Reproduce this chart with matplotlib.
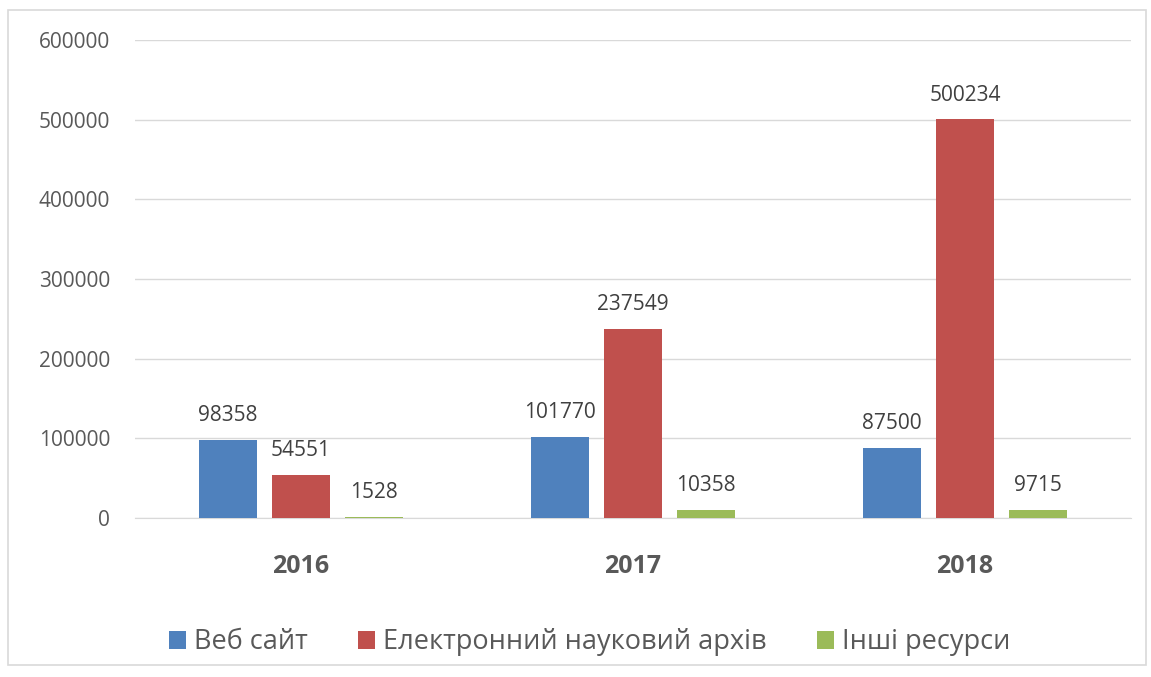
import numpy as np
import matplotlib.pyplot as plt
from matplotlib.patches import Rectangle

# Дані
years = ['2016', '2017', '2018']
series = ['Веб сайт', 'Електронний науковий архів', 'Інші ресурси']
web = [98358, 101770, 87500]
archive = [54551, 237549, 500234]
other = [1528, 10358, 9715]
colors = ['#4F81BD', '#C0504D', '#9BBB59']

plt.rcParams['font.family'] = ['Open Sans', 'DejaVu Sans']
txt = '#595959'

fig = plt.figure(figsize=(11.51, 6.77), dpi=100)
ax = fig.add_axes([0.1173, 0.2349, 0.8653, 0.7060])

# Рамка навколо діаграми
fig.patches.append(Rectangle((0.007, 0.018), 0.989, 0.967, transform=fig.transFigure,
                             fill=False, edgecolor='#D9D9D9', linewidth=1.2))

x = np.arange(len(years))
w = 0.174
step = 0.22
for i, (vals, col) in enumerate(zip([web, archive, other], colors)):
    pos = x + (i - 1) * step
    bars = ax.bar(pos, vals, w, color=col, label=series[i], zorder=3)
    for b, v in zip(bars, vals):
        ax.annotate(str(v), (b.get_x() + b.get_width() / 2, v), xytext=(0, 10),
                    textcoords='offset points', ha='center', va='bottom',
                    fontsize=15, color='#404040')

ax.set_xlim(-0.5, 2.5)
ax.set_ylim(0, 600000)
ax.set_yticks(np.arange(0, 600001, 100000))
ax.set_yticklabels([str(v) for v in range(0, 600001, 100000)])
ax.set_xticks(x)
ax.set_xticklabels(years, fontweight='bold', fontsize=18)
ax.tick_params(axis='x', length=0, pad=26, colors=txt)
ax.tick_params(axis='y', length=0, pad=18, labelsize=15, colors=txt)
ax.grid(axis='y', color='#D9D9D9', linewidth=1, zorder=0)
for s in ax.spines.values():
    s.set_visible(False)
ax.spines['bottom'].set_visible(True)
ax.spines['bottom'].set_color('#D9D9D9')

leg = fig.legend(loc='center', bbox_to_anchor=(0.512, 0.051), ncol=3, frameon=False,
                 fontsize=19.5, handlelength=0.63, handleheight=0.63, columnspacing=1.85,
                 handletextpad=0.3)
for t in leg.get_texts():
    t.set_color(txt)

fig.savefig('out.png', dpi=100)
